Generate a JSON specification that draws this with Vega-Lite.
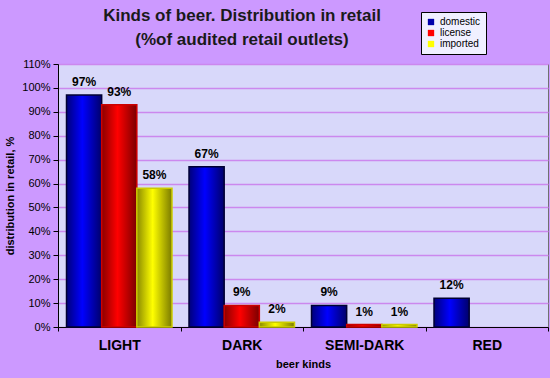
{
  "$schema": "https://vega.github.io/schema/vega-lite/v6.json",
  "width": 490,
  "height": 263,
  "autosize": {"type": "none"},
  "padding": {"left": 58, "top": 64, "right": 2, "bottom": 51},
  "background": "#CC99FF",
  "title": {
    "text": ["Kinds of beer. Distribution in retail", "(%of audited retail outlets)"],
    "anchor": "middle",
    "dx": -61,
    "offset": -50,
    "baseline": "alphabetic",
    "lineHeight": 24,
    "font": "Liberation Sans",
    "fontSize": 17,
    "fontWeight": "bold",
    "color": "#1a1a1a"
  },
  "config": {
    "view": {"fill": "#D8D8FA", "stroke": "#707070", "strokeWidth": 1},
    "font": "Liberation Sans"
  },
  "data": {
    "values": [
      {"kind": "LIGHT", "series": "domestic", "value": 0.97},
      {"kind": "LIGHT", "series": "license", "value": 0.93},
      {"kind": "LIGHT", "series": "imported", "value": 0.58},
      {"kind": "DARK", "series": "domestic", "value": 0.67},
      {"kind": "DARK", "series": "license", "value": 0.09},
      {"kind": "DARK", "series": "imported", "value": 0.02},
      {"kind": "SEMI-DARK", "series": "domestic", "value": 0.09},
      {"kind": "SEMI-DARK", "series": "license", "value": 0.01},
      {"kind": "SEMI-DARK", "series": "imported", "value": 0.01},
      {"kind": "RED", "series": "domestic", "value": 0.12},
      {"kind": "RED", "series": "license", "value": 0},
      {"kind": "RED", "series": "imported", "value": 0}
    ]
  },
  "transform": [{"filter": "datum.value > 0"}],
  "encoding": {
    "x": {
      "field": "kind",
      "type": "nominal",
      "sort": ["LIGHT", "DARK", "SEMI-DARK", "RED"],
      "scale": {"paddingInner": 0, "paddingOuter": 0},
      "axis": {
        "title": "beer kinds",
        "titleFontSize": 11,
        "titleFontWeight": "bold",
        "titleColor": "#000000",
        "titlePadding": 6,
        "labelAngle": 0,
        "labelFontSize": 14,
        "labelFontWeight": "bold",
        "labelColor": "#000000",
        "labelPadding": 7,
        "tickBand": "extent",
        "tickColor": "#000000",
        "tickSize": 4,
        "domainColor": "#000000",
        "grid": false
      }
    },
    "xOffset": {
      "field": "series",
      "type": "nominal",
      "sort": ["domestic", "license", "imported"],
      "scale": {"paddingInner": 0, "paddingOuter": 0.242}
    },
    "y": {
      "field": "value",
      "type": "quantitative",
      "scale": {"domain": [0, 1.1], "nice": false},
      "axis": {
        "title": "distribution in retail, %",
        "titleFontSize": 11,
        "titleFontWeight": "bold",
        "titleColor": "#000000",
        "titlePadding": 6,
        "format": ".0%",
        "values": [0, 0.1, 0.2, 0.3, 0.4, 0.5, 0.6, 0.7, 0.8, 0.9, 1.0, 1.1],
        "labelOverlap": false,
        "labelFlush": false,
        "labelFontSize": 11,
        "labelColor": "#000000",
        "labelPadding": 3,
        "tickColor": "#000000",
        "tickSize": 5,
        "domainColor": "#000000",
        "gridColor": "#CC88EE",
        "gridWidth": 1.5
      }
    }
  },
  "layer": [
    {
      "mark": {"type": "bar"},
      "encoding": {
        "color": {
          "field": "series",
          "type": "nominal",
          "sort": ["domestic", "license", "imported"],
          "scale": {"domain": ["domestic", "license", "imported"], "range": ["#0000AA", "#FF0000", "#FFFF00"]},
          "legend": {
            "title": null,
            "orient": "none",
            "legendX": 363,
            "legendY": -52,
            "symbolType": "square",
            "symbolSize": 40,
            "symbolStrokeWidth": 0,
            "labelFontSize": 10,
            "labelColor": "#000000",
            "rowPadding": 1,
            "padding": 5,
            "fillColor": "#F0F0FF",
            "strokeColor": "#000000",
            "labelLimit": 60
          }
        }
      }
    },
    {
      "mark": {"type": "bar", "strokeWidth": 1.5},
      "encoding": {
        "fill": {
          "condition": [
            {"test": "datum.series === 'domestic'", "value": {"gradient": "linear", "x1": 0, "x2": 1, "y1": 0, "y2": 0, "stops": [{"offset": 0, "color": "#00007A"}, {"offset": 0.45, "color": "#0000FF"}, {"offset": 1, "color": "#00006A"}]}},
            {"test": "datum.series === 'license'", "value": {"gradient": "linear", "x1": 0, "x2": 1, "y1": 0, "y2": 0, "stops": [{"offset": 0, "color": "#8A0000"}, {"offset": 0.45, "color": "#FF0000"}, {"offset": 1, "color": "#7A0000"}]}}
          ],
          "value": {"gradient": "linear", "x1": 0, "x2": 1, "y1": 0, "y2": 0, "stops": [{"offset": 0, "color": "#8A8A00"}, {"offset": 0.45, "color": "#FFFF00"}, {"offset": 1, "color": "#7A7A00"}]}
        },
        "stroke": {
          "condition": [
            {"test": "datum.series === 'domestic'", "value": "#000033"},
            {"test": "datum.series === 'license'", "value": "#CC0000"}
          ],
          "value": "#CCCC00"
        }
      }
    },
    {
      "mark": {"type": "text", "baseline": "bottom", "dy": -6, "fontSize": 12, "fontWeight": "bold", "color": "#000000"},
      "encoding": {
        "text": {"field": "value", "type": "quantitative", "format": ".0%"}
      }
    }
  ]
}
